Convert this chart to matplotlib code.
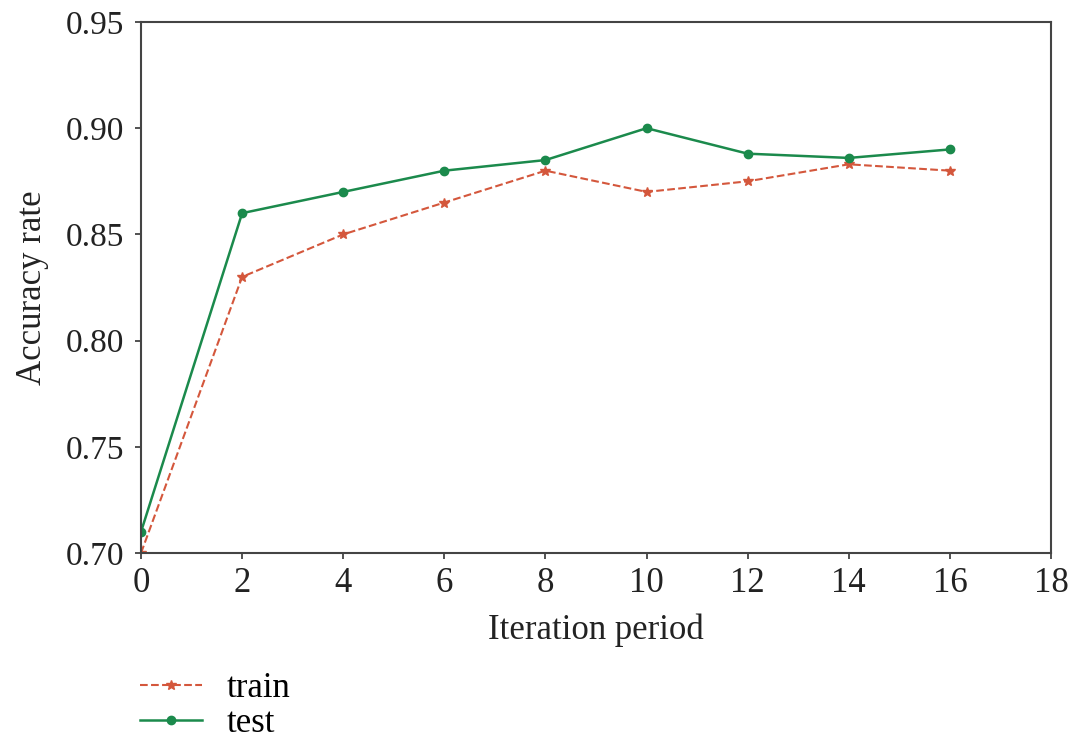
import matplotlib
matplotlib.use('Agg')
import matplotlib.pyplot as plt

# Iteration periods and accuracy values
epochs = [0, 2, 4, 6, 8, 10, 12, 14, 16]
train_acc = [0.700, 0.830, 0.850, 0.865, 0.880, 0.870, 0.875, 0.883, 0.880]
test_acc = [0.710, 0.860, 0.870, 0.880, 0.885, 0.900, 0.888, 0.886, 0.890]

plt.rcParams['font.family'] = ['Liberation Serif', 'DejaVu Serif']

fig = plt.figure(figsize=(10.75, 7.38), dpi=100)
ax = fig.add_axes([0.1312, 0.2507, 0.8465, 0.7195])

ax.plot(epochs, train_acc, linestyle='--', color='#d4573c', linewidth=1.5,
        marker='*', markersize=7, label='train')
ax.plot(epochs, test_acc, linestyle='-', color='#1b8a4c', linewidth=1.8,
        marker='o', markersize=6, label='test')

ax.set_xlim(0, 18)
ax.set_ylim(0.70, 0.95)
ax.set_xticks(range(0, 19, 2))
ax.set_yticks([0.70, 0.75, 0.80, 0.85, 0.90, 0.95])
ax.set_yticklabels(['0.70', '0.75', '0.80', '0.85', '0.90', '0.95'])
ax.tick_params(axis='y', labelsize=24, length=4, width=1.2, pad=8,
               colors='#333333', labelcolor='#222222')
ax.tick_params(axis='x', labelsize=25, length=4, width=1.2, pad=6,
               colors='#333333', labelcolor='#222222')
for s in ax.spines.values():
    s.set_linewidth(1.5)
    s.set_color('#444444')

ax.set_xlabel('Iteration period', fontsize=25, labelpad=10, color='#222222')
ax.set_ylabel('Accuracy rate', fontsize=25, labelpad=12, color='#222222')

fig.legend(loc='upper left', bbox_to_anchor=(0.117, 0.108), frameon=False,
           fontsize=25, handlelength=1.8, handletextpad=0.7,
           labelspacing=0.05, borderaxespad=0)

fig.savefig('out.png', dpi=100)
